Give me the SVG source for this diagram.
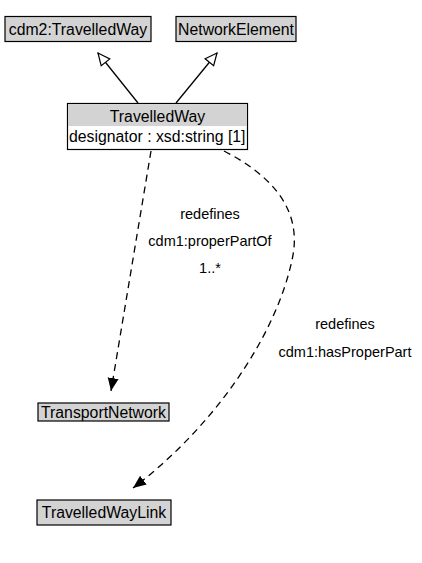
<svg xmlns="http://www.w3.org/2000/svg" width="422" height="563" viewBox="0 0 422 563">
<style>
text{font-family:"Liberation Sans",Arial,sans-serif;font-size:14.5px;fill:#000}
.n{font-size:15.8px}
.box{fill:#d3d3d3;stroke:#000;stroke-width:1.2}
.edge{fill:none;stroke:#000;stroke-width:1.3}
.dash{stroke-dasharray:7,5}
</style>
<defs>
<marker id="tri" viewBox="0 0 14 14" refX="13" refY="7" markerWidth="14" markerHeight="14" markerUnits="userSpaceOnUse" orient="auto">
<path d="M1,1.5 L13,7 L1,12.5 Z" fill="#fff" stroke="#000" stroke-width="1.2"/>
</marker>
<marker id="arr" viewBox="0 0 14 14" refX="13" refY="7" markerWidth="14" markerHeight="14" markerUnits="userSpaceOnUse" orient="auto">
<path d="M0,1.5 L13,7 L0,12.5 Z" fill="#000"/>
</marker>
</defs>
<rect width="422" height="563" fill="#fff"/>
<g id="connectors">
<line class="edge" x1="138" y1="103" x2="98" y2="53" marker-end="url(#tri)"/>
<line class="edge" x1="176" y1="103" x2="217" y2="53" marker-end="url(#tri)"/>
<path class="edge dash" d="M151,151 L111,391" marker-end="url(#arr)"/>
<path class="edge dash" d="M224,151 C290,185 300,225 292,260 C275,340 210,430 133,488" marker-end="url(#arr)"/>
<text x="210" y="219" text-anchor="middle">redefines</text>
<text x="210" y="246" text-anchor="middle">cdm1:properPartOf</text>
<text x="210" y="273" text-anchor="middle">1..*</text>
<text x="345" y="329" text-anchor="middle">redefines</text>
<text x="345" y="357" text-anchor="middle">cdm1:hasProperPart</text>
</g>
<g id="cdm2TravelledWay">
<rect class="box" x="5" y="16.5" width="146" height="25"/>
<text class="n" x="78" y="34.5" text-anchor="middle">cdm2:TravelledWay</text>
</g>
<g id="NetworkElement">
<rect class="box" x="176" y="16.5" width="120" height="25"/>
<text class="n" x="236" y="34.5" text-anchor="middle">NetworkElement</text>
</g>
<g id="TravelledWay">
<rect x="67.5" y="103.5" width="180" height="46" fill="#fff" stroke="#000" stroke-width="1.2"/>
<rect x="68.1" y="104.1" width="178.8" height="22" fill="#d3d3d3"/>
<text class="n" x="157.5" y="121.5" text-anchor="middle">TravelledWay</text>
<text class="n" x="69" y="141.7">designator : xsd:string [1]</text>
</g>
<g id="TransportNetwork">
<rect class="box" x="38" y="403" width="131" height="18"/>
<text class="n" x="103.5" y="418" text-anchor="middle">TransportNetwork</text>
</g>
<g id="TravelledWayLink">
<rect class="box" x="37" y="500" width="134" height="25"/>
<text class="n" x="104" y="518" text-anchor="middle">TravelledWayLink</text>
</g>
</svg>
